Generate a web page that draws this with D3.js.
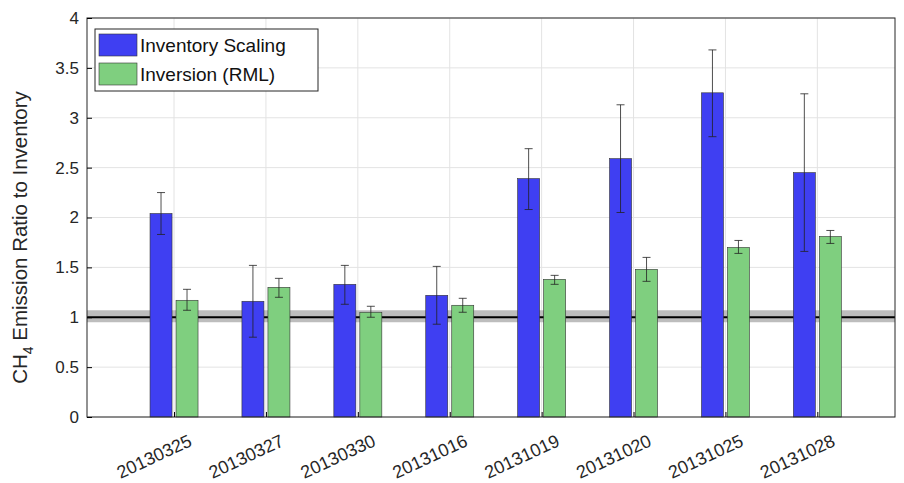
<!DOCTYPE html><html><head><script src="https://cdn.jsdelivr.net/npm/d3@7"></script>
<style>body{margin:0;background:#fff}text{font-family:"Helvetica","Liberation Sans",Arial,sans-serif}</style></head><body>
<svg id="c" width="904" height="483"></svg>
<script>
const categories=["20130325","20130327","20130330","20131016","20131019","20131020","20131025","20131028"];
const scaling=[2.04,1.16,1.33,1.22,2.39,2.59,3.25,2.45];
const scalingLo=[1.83,0.80,1.13,0.93,2.08,2.05,2.81,1.66];
const scalingHi=[2.25,1.52,1.52,1.51,2.69,3.13,3.68,3.24];
const inversion=[1.17,1.30,1.05,1.12,1.38,1.48,1.70,1.81];
const inversionLo=[1.07,1.20,1.00,1.05,1.33,1.36,1.64,1.74];
const inversionHi=[1.28,1.39,1.11,1.19,1.42,1.60,1.77,1.87];
const yTicks=[0,0.5,1,1.5,2,2.5,3,3.5,4];
const band=[0.95,1.07];
const svg=d3.select("#c");
const L=87,R=895,T=18,B=417;
const x=d3.scaleLinear().domain([0.053,8.845]).range([L,R]);
const y=d3.scaleLinear().domain([0,4]).range([B,T]);
const g=svg.append("g");
g.selectAll(".gy").data(yTicks).join("line").attr("x1",L).attr("x2",R).attr("y1",d=>y(d)).attr("y2",d=>y(d)).attr("stroke","#e3e3e3");
g.selectAll(".gx").data(categories).join("line").attr("x1",(d,i)=>x(i+1)).attr("x2",(d,i)=>x(i+1)).attr("y1",T).attr("y2",B).attr("stroke","#e3e3e3");
g.append("rect").attr("x",L).attr("width",R-L).attr("y",y(band[1])).attr("height",y(band[0])-y(band[1])).attr("fill","#bdbdbd");
g.append("line").attr("x1",L).attr("x2",R).attr("y1",y(1)).attr("y2",y(1)).attr("stroke","#000").attr("stroke-width",2);
const bw=22;
function bars(vals,lo,hi,color,dx){
  g.selectAll(null).data(vals).join("rect").attr("x",(d,i)=>x(i+1)+dx).attr("width",bw).attr("y",d=>y(d)).attr("height",d=>B-y(d)).attr("fill",color).attr("stroke","#333").attr("stroke-width",0.6);
  const cx=i=>x(i+1)+dx+bw/2;
  g.selectAll(null).data(vals).join("line").attr("x1",(d,i)=>cx(i)).attr("x2",(d,i)=>cx(i)).attr("y1",(d,i)=>y(lo[i])).attr("y2",(d,i)=>y(hi[i])).attr("stroke","#222").attr("stroke-width",0.8);
  [lo,hi].forEach(a=>g.selectAll(null).data(a).join("line").attr("x1",(d,i)=>cx(i)-4).attr("x2",(d,i)=>cx(i)+4).attr("y1",d=>y(d)).attr("y2",d=>y(d)).attr("stroke","#222").attr("stroke-width",0.8));
}
bars(scaling,scalingLo,scalingHi,"#3f3ff2",-24);
bars(inversion,inversionLo,inversionHi,"#7fcf7f",2);
g.append("rect").attr("x",L).attr("y",T).attr("width",R-L).attr("height",B-T).attr("fill","none").attr("stroke","#262626");
const ya=svg.append("g").attr("transform",`translate(${L},0)`).call(d3.axisLeft(y).tickValues(yTicks).tickSize(-5).tickPadding(8).tickFormat(d3.format("~g")));
ya.select(".domain").remove();ya.selectAll("text").attr("font-size",17).attr("fill","#262626");
const xa=svg.append("g").attr("transform",`translate(0,${B})`).call(d3.axisBottom(x).tickValues(d3.range(1,9)).tickSize(-5).tickFormat(d=>categories[d-1]));
xa.select(".domain").remove();
xa.selectAll("text").attr("font-size",18).attr("fill","#262626").attr("text-anchor","end").attr("transform","translate(12,14) rotate(-25)").attr("dy","0.7em");
svg.append("text").attr("transform",`translate(27,${(T+B)/2+20}) rotate(-90)`).attr("text-anchor","middle").attr("font-size",20.5).attr("fill","#262626")
 .html('CH<tspan dy="6" font-size="14">4</tspan><tspan dy="-6"> Emission Ratio to Inventory</tspan>');
const lg=svg.append("g");
lg.append("rect").attr("x",95).attr("y",29).attr("width",223).attr("height",62).attr("fill","#fff").attr("stroke","#262626");
[["Inventory Scaling","#3f3ff2"],["Inversion (RML)","#7fcf7f"]].forEach((d,i)=>{
 lg.append("rect").attr("x",99).attr("y",34+i*29).attr("width",38).attr("height",22).attr("fill",d[1]).attr("stroke","#333").attr("stroke-width",0.6);
 lg.append("text").attr("x",140).attr("y",52+i*29).attr("font-size",19).attr("fill","#111").text(d[0]);
});
</script></body></html>
